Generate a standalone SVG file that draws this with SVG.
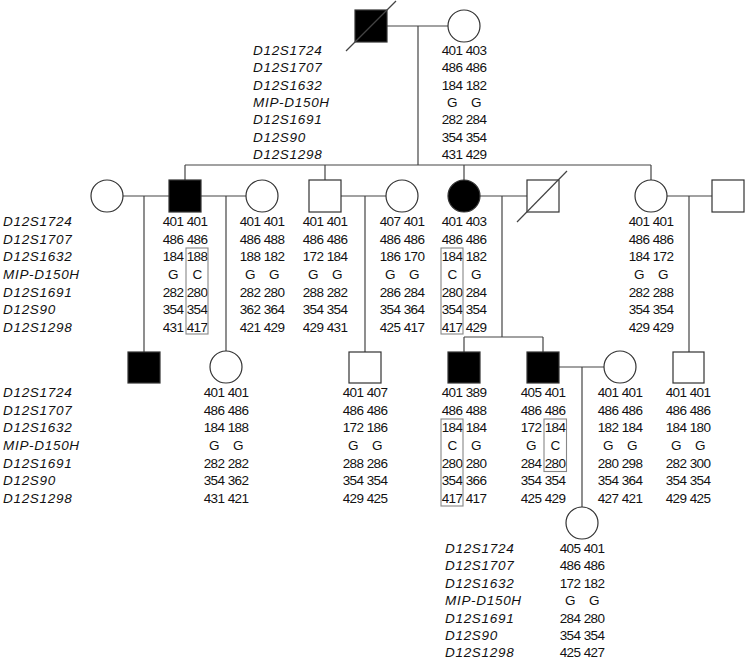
<svg xmlns="http://www.w3.org/2000/svg" width="745" height="660" viewBox="0 0 745 660">
<style>
.ln{stroke:#444;stroke-width:1.2;fill:none}
.s{fill:#fff;stroke:#333;stroke-width:1.2}
.a{fill:#000;stroke:#333;stroke-width:1.2}
.bx{fill:none;stroke:#888;stroke-width:1.1}
.lab{font-family:"Liberation Sans",Arial,sans-serif;font-style:italic;font-size:13.5px;letter-spacing:0.7px;fill:#111}
.n{font-family:"Liberation Sans",Arial,sans-serif;font-size:13.5px;text-anchor:middle;letter-spacing:-0.6px;fill:#111}
</style>
<rect width="745" height="660" fill="#fff"/>
<g id="connectors">
<line class="ln" x1="387" y1="26" x2="448" y2="26"/>
<line class="ln" x1="418" y1="26" x2="418" y2="165"/>
<line class="ln" x1="185" y1="165" x2="651" y2="165"/>
<line class="ln" x1="185" y1="165" x2="185" y2="180"/>
<line class="ln" x1="325" y1="165" x2="325" y2="180"/>
<line class="ln" x1="464" y1="165" x2="464" y2="180"/>
<line class="ln" x1="651" y1="165" x2="651" y2="180"/>
<line class="ln" x1="123" y1="196" x2="169" y2="196"/>
<line class="ln" x1="201" y1="196" x2="246" y2="196"/>
<line class="ln" x1="341" y1="196" x2="386" y2="196"/>
<line class="ln" x1="480" y1="196" x2="527" y2="196"/>
<line class="ln" x1="667" y1="196" x2="712" y2="196"/>
<line class="ln" x1="144" y1="196" x2="144" y2="352"/>
<line class="ln" x1="226" y1="196" x2="226" y2="351"/>
<line class="ln" x1="365" y1="196" x2="365" y2="352"/>
<line class="ln" x1="502" y1="196" x2="502" y2="337"/>
<line class="ln" x1="464" y1="337" x2="543" y2="337"/>
<line class="ln" x1="464" y1="337" x2="464" y2="352"/>
<line class="ln" x1="543" y1="337" x2="543" y2="352"/>
<line class="ln" x1="689" y1="196" x2="689" y2="352"/>
<line class="ln" x1="559" y1="367" x2="604" y2="367"/>
<line class="ln" x1="582" y1="367" x2="582" y2="507"/>
</g>
<g id="labels-I" class="lab"><text><tspan x="253" y="55">D12S1724</tspan><tspan x="253" y="72.3">D12S1707</tspan><tspan x="253" y="89.6">D12S1632</tspan><tspan x="253" y="106.9">MIP-D150H</tspan><tspan x="253" y="124.2">D12S1691</tspan><tspan x="253" y="141.5">D12S90</tspan><tspan x="253" y="158.8">D12S1298</tspan></text></g>
<g id="labels-II" class="lab"><text><tspan x="3" y="226">D12S1724</tspan><tspan x="3" y="243.7">D12S1707</tspan><tspan x="3" y="261.3">D12S1632</tspan><tspan x="3" y="279">MIP-D150H</tspan><tspan x="3" y="296.7">D12S1691</tspan><tspan x="3" y="314.3">D12S90</tspan><tspan x="3" y="332">D12S1298</tspan></text></g>
<g id="labels-III" class="lab"><text><tspan x="3" y="397">D12S1724</tspan><tspan x="3" y="414.7">D12S1707</tspan><tspan x="3" y="432.3">D12S1632</tspan><tspan x="3" y="450">MIP-D150H</tspan><tspan x="3" y="467.7">D12S1691</tspan><tspan x="3" y="485.3">D12S90</tspan><tspan x="3" y="503">D12S1298</tspan></text></g>
<g id="labels-IV" class="lab"><text><tspan x="445" y="553">D12S1724</tspan><tspan x="445" y="570.4">D12S1707</tspan><tspan x="445" y="587.8">D12S1632</tspan><tspan x="445" y="605.2">MIP-D150H</tspan><tspan x="445" y="622.6">D12S1691</tspan><tspan x="445" y="640">D12S90</tspan><tspan x="445" y="657.4">D12S1298</tspan></text></g>

<g id="I-1"><rect class="a" x="355" y="10" width="32" height="32"/><line class="ln" x1="346" y1="51" x2="396" y2="1"/></g>
<g id="I-2"><circle class="s" cx="464" cy="26" r="16"/>
<text class="n"><tspan x="452" y="55">401</tspan><tspan x="452" y="72.3">486</tspan><tspan x="452" y="89.6">184</tspan><tspan x="452" y="106.9">G</tspan><tspan x="452" y="124.2">282</tspan><tspan x="452" y="141.5">354</tspan><tspan x="452" y="158.8">431</tspan></text>
<text class="n"><tspan x="476" y="55">403</tspan><tspan x="476" y="72.3">486</tspan><tspan x="476" y="89.6">182</tspan><tspan x="476" y="106.9">G</tspan><tspan x="476" y="124.2">284</tspan><tspan x="476" y="141.5">354</tspan><tspan x="476" y="158.8">429</tspan></text></g>

<g id="II-wife1"><circle class="s" cx="107" cy="196" r="16"/></g>
<g id="II-1"><rect class="a" x="169" y="180" width="32" height="32"/>
<text class="n"><tspan x="173" y="226">401</tspan><tspan x="173" y="243.7">486</tspan><tspan x="173" y="261.3">184</tspan><tspan x="173" y="279">G</tspan><tspan x="173" y="296.7">282</tspan><tspan x="173" y="314.3">354</tspan><tspan x="173" y="332">431</tspan></text>
<text class="n"><tspan x="197" y="226">401</tspan><tspan x="197" y="243.7">486</tspan><tspan x="197" y="261.3">188</tspan><tspan x="197" y="279">C</tspan><tspan x="197" y="296.7">280</tspan><tspan x="197" y="314.3">354</tspan><tspan x="197" y="332">417</tspan></text>
<rect class="bx" x="186" y="248" width="22" height="86"/></g>
<g id="II-wife2"><circle class="s" cx="262" cy="196" r="16"/>
<text class="n"><tspan x="250" y="226">401</tspan><tspan x="250" y="243.7">486</tspan><tspan x="250" y="261.3">188</tspan><tspan x="250" y="279">G</tspan><tspan x="250" y="296.7">282</tspan><tspan x="250" y="314.3">362</tspan><tspan x="250" y="332">421</tspan></text>
<text class="n"><tspan x="274" y="226">401</tspan><tspan x="274" y="243.7">488</tspan><tspan x="274" y="261.3">182</tspan><tspan x="274" y="279">G</tspan><tspan x="274" y="296.7">280</tspan><tspan x="274" y="314.3">364</tspan><tspan x="274" y="332">429</tspan></text></g>
<g id="II-2"><rect class="s" x="309" y="180" width="32" height="32"/>
<text class="n"><tspan x="313" y="226">401</tspan><tspan x="313" y="243.7">486</tspan><tspan x="313" y="261.3">172</tspan><tspan x="313" y="279">G</tspan><tspan x="313" y="296.7">288</tspan><tspan x="313" y="314.3">354</tspan><tspan x="313" y="332">429</tspan></text>
<text class="n"><tspan x="337" y="226">401</tspan><tspan x="337" y="243.7">486</tspan><tspan x="337" y="261.3">184</tspan><tspan x="337" y="279">G</tspan><tspan x="337" y="296.7">282</tspan><tspan x="337" y="314.3">354</tspan><tspan x="337" y="332">431</tspan></text></g>
<g id="II-wife3"><circle class="s" cx="402" cy="196" r="16"/>
<text class="n"><tspan x="390" y="226">407</tspan><tspan x="390" y="243.7">486</tspan><tspan x="390" y="261.3">186</tspan><tspan x="390" y="279">G</tspan><tspan x="390" y="296.7">286</tspan><tspan x="390" y="314.3">354</tspan><tspan x="390" y="332">425</tspan></text>
<text class="n"><tspan x="414" y="226">401</tspan><tspan x="414" y="243.7">486</tspan><tspan x="414" y="261.3">170</tspan><tspan x="414" y="279">G</tspan><tspan x="414" y="296.7">284</tspan><tspan x="414" y="314.3">364</tspan><tspan x="414" y="332">417</tspan></text></g>
<g id="II-3"><circle class="a" cx="464" cy="196" r="16"/>
<text class="n"><tspan x="452" y="226">401</tspan><tspan x="452" y="243.7">486</tspan><tspan x="452" y="261.3">184</tspan><tspan x="452" y="279">C</tspan><tspan x="452" y="296.7">280</tspan><tspan x="452" y="314.3">354</tspan><tspan x="452" y="332">417</tspan></text>
<text class="n"><tspan x="476" y="226">403</tspan><tspan x="476" y="243.7">486</tspan><tspan x="476" y="261.3">182</tspan><tspan x="476" y="279">G</tspan><tspan x="476" y="296.7">284</tspan><tspan x="476" y="314.3">354</tspan><tspan x="476" y="332">429</tspan></text>
<rect class="bx" x="441" y="248" width="22" height="86"/></g>
<g id="II-husband"><rect class="s" x="527" y="180" width="32" height="32"/><line class="ln" x1="517" y1="222" x2="567" y2="171"/></g>
<g id="II-4"><circle class="s" cx="651" cy="196" r="16"/>
<text class="n"><tspan x="639" y="226">401</tspan><tspan x="639" y="243.7">486</tspan><tspan x="639" y="261.3">184</tspan><tspan x="639" y="279">G</tspan><tspan x="639" y="296.7">282</tspan><tspan x="639" y="314.3">354</tspan><tspan x="639" y="332">429</tspan></text>
<text class="n"><tspan x="663" y="226">401</tspan><tspan x="663" y="243.7">486</tspan><tspan x="663" y="261.3">172</tspan><tspan x="663" y="279">G</tspan><tspan x="663" y="296.7">288</tspan><tspan x="663" y="314.3">354</tspan><tspan x="663" y="332">429</tspan></text></g>
<g id="II-husband2"><rect class="s" x="712" y="180" width="32" height="32"/></g>

<g id="III-1"><rect class="a" x="128" y="352" width="32" height="31"/></g>
<g id="III-2"><circle class="s" cx="226" cy="367" r="16"/>
<text class="n"><tspan x="214" y="397">401</tspan><tspan x="214" y="414.7">486</tspan><tspan x="214" y="432.3">184</tspan><tspan x="214" y="450">G</tspan><tspan x="214" y="467.7">282</tspan><tspan x="214" y="485.3">354</tspan><tspan x="214" y="503">431</tspan></text>
<text class="n"><tspan x="238" y="397">401</tspan><tspan x="238" y="414.7">486</tspan><tspan x="238" y="432.3">188</tspan><tspan x="238" y="450">G</tspan><tspan x="238" y="467.7">282</tspan><tspan x="238" y="485.3">362</tspan><tspan x="238" y="503">421</tspan></text></g>
<g id="III-3"><rect class="s" x="349" y="352" width="32" height="31"/>
<text class="n"><tspan x="353" y="397">401</tspan><tspan x="353" y="414.7">486</tspan><tspan x="353" y="432.3">172</tspan><tspan x="353" y="450">G</tspan><tspan x="353" y="467.7">288</tspan><tspan x="353" y="485.3">354</tspan><tspan x="353" y="503">429</tspan></text>
<text class="n"><tspan x="377" y="397">407</tspan><tspan x="377" y="414.7">486</tspan><tspan x="377" y="432.3">186</tspan><tspan x="377" y="450">G</tspan><tspan x="377" y="467.7">286</tspan><tspan x="377" y="485.3">354</tspan><tspan x="377" y="503">425</tspan></text></g>
<g id="III-4"><rect class="a" x="448" y="352" width="32" height="31"/>
<text class="n"><tspan x="452" y="397">401</tspan><tspan x="452" y="414.7">486</tspan><tspan x="452" y="432.3">184</tspan><tspan x="452" y="450">C</tspan><tspan x="452" y="467.7">280</tspan><tspan x="452" y="485.3">354</tspan><tspan x="452" y="503">417</tspan></text>
<text class="n"><tspan x="476" y="397">389</tspan><tspan x="476" y="414.7">488</tspan><tspan x="476" y="432.3">184</tspan><tspan x="476" y="450">G</tspan><tspan x="476" y="467.7">280</tspan><tspan x="476" y="485.3">366</tspan><tspan x="476" y="503">417</tspan></text>
<rect class="bx" x="441" y="419" width="22" height="87"/></g>
<g id="III-5"><rect class="a" x="527" y="352" width="32" height="31"/>
<text class="n"><tspan x="531" y="397">405</tspan><tspan x="531" y="414.7">486</tspan><tspan x="531" y="432.3">172</tspan><tspan x="531" y="450">G</tspan><tspan x="531" y="467.7">284</tspan><tspan x="531" y="485.3">354</tspan><tspan x="531" y="503">425</tspan></text>
<text class="n"><tspan x="555" y="397">401</tspan><tspan x="555" y="414.7">486</tspan><tspan x="555" y="432.3">184</tspan><tspan x="555" y="450">C</tspan><tspan x="555" y="467.7">280</tspan><tspan x="555" y="485.3">354</tspan><tspan x="555" y="503">429</tspan></text>
<rect class="bx" x="544" y="419" width="22.5" height="52.5"/></g>
<g id="III-wife"><circle class="s" cx="620" cy="367" r="16"/>
<text class="n"><tspan x="608" y="397">401</tspan><tspan x="608" y="414.7">486</tspan><tspan x="608" y="432.3">182</tspan><tspan x="608" y="450">G</tspan><tspan x="608" y="467.7">280</tspan><tspan x="608" y="485.3">354</tspan><tspan x="608" y="503">427</tspan></text>
<text class="n"><tspan x="632" y="397">401</tspan><tspan x="632" y="414.7">486</tspan><tspan x="632" y="432.3">184</tspan><tspan x="632" y="450">G</tspan><tspan x="632" y="467.7">298</tspan><tspan x="632" y="485.3">364</tspan><tspan x="632" y="503">421</tspan></text></g>
<g id="III-6"><rect class="s" x="673" y="352" width="31" height="31"/>
<text class="n"><tspan x="676" y="397">401</tspan><tspan x="676" y="414.7">486</tspan><tspan x="676" y="432.3">184</tspan><tspan x="676" y="450">G</tspan><tspan x="676" y="467.7">282</tspan><tspan x="676" y="485.3">354</tspan><tspan x="676" y="503">429</tspan></text>
<text class="n"><tspan x="700" y="397">401</tspan><tspan x="700" y="414.7">486</tspan><tspan x="700" y="432.3">180</tspan><tspan x="700" y="450">G</tspan><tspan x="700" y="467.7">300</tspan><tspan x="700" y="485.3">354</tspan><tspan x="700" y="503">425</tspan></text></g>

<g id="IV-1"><circle class="s" cx="582" cy="523" r="16"/>
<text class="n"><tspan x="570" y="553">405</tspan><tspan x="570" y="570.4">486</tspan><tspan x="570" y="587.8">172</tspan><tspan x="570" y="605.2">G</tspan><tspan x="570" y="622.6">284</tspan><tspan x="570" y="640">354</tspan><tspan x="570" y="657.4">425</tspan></text>
<text class="n"><tspan x="594" y="553">401</tspan><tspan x="594" y="570.4">486</tspan><tspan x="594" y="587.8">182</tspan><tspan x="594" y="605.2">G</tspan><tspan x="594" y="622.6">280</tspan><tspan x="594" y="640">354</tspan><tspan x="594" y="657.4">427</tspan></text></g>
</svg>
